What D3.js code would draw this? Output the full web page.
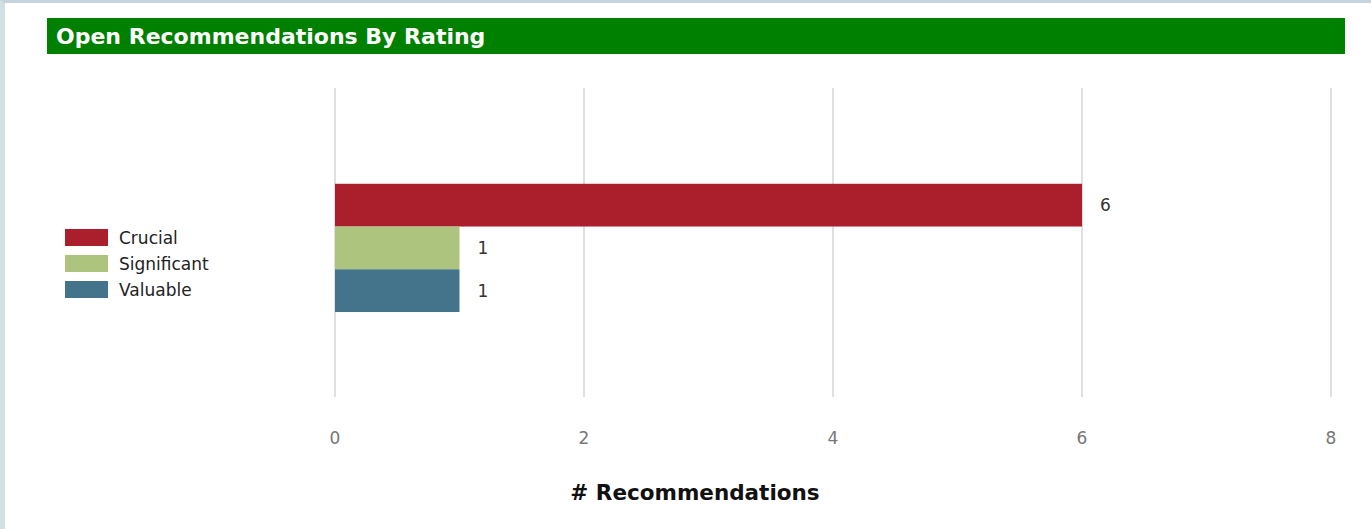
<!DOCTYPE html>
<html>
<head>
<meta charset="utf-8">
<script src="https://cdn.jsdelivr.net/npm/d3@7"></script>
<style>
  html, body { margin: 0; padding: 0; background: #ffffff; }
  body { width: 1371px; height: 529px; overflow: hidden; position: relative;
         border-top: 3px solid #c4d4da; border-left: 5px solid #d3e0e3; box-sizing: border-box; }
</style>
</head>
<body>
<div id="chart"></div>
<script>
const title = "Open Recommendations By Rating";
const ratings = ["Crucial", "Significant", "Valuable"];
const counts = [6, 1, 1];
const colors = ["#ab1f2d", "#adc47e", "#44748c"];
const xTicks = [0, 2, 4, 6, 8];
const xTitle = "# Recommendations";

const SIZE = { width: 1366, height: 526 };
const MARGIN = { left: 330, right: 40, top: 85, bottom: 132 };
const FONT = "'DejaVu Sans', Verdana, sans-serif";

function initialize() {
  const svg = d3.select("div#chart").append("svg")
      .attr("width", SIZE.width)
      .attr("height", SIZE.height)
      .style("display", "block");

  // header bar
  svg.append("rect")
      .attr("x", 42).attr("y", 15)
      .attr("width", 1298).attr("height", 36)
      .attr("fill", "#008000");
  svg.append("text")
      .attr("x", 51).attr("y", 41)
      .attr("fill", "#ffffff")
      .style("font-family", FONT)
      .style("font-weight", "bold")
      .style("font-size", "22px")
      .text(title);

  const x = d3.scaleLinear().domain([0, 8])
      .range([MARGIN.left, SIZE.width - MARGIN.right]);
  const plotBottom = SIZE.height - MARGIN.bottom;
  const plotH = plotBottom - MARGIN.top;
  const y = d3.scaleBand().domain(ratings)
      .range([MARGIN.top + plotH * 0.31, MARGIN.top + plotH * 0.725]);

  // gridlines
  svg.append("g").selectAll("line").data(xTicks).join("line")
      .attr("x1", d => x(d)).attr("x2", d => x(d))
      .attr("y1", MARGIN.top).attr("y2", plotBottom)
      .attr("stroke", "#e0e0e0").attr("stroke-width", 2);

  // tick labels
  svg.append("g").selectAll("text").data(xTicks).join("text")
      .attr("x", d => x(d)).attr("y", plotBottom + 47)
      .attr("text-anchor", "middle")
      .attr("fill", "#777")
      .style("font-family", FONT)
      .style("font-size", "17px")
      .text(d => d);

  // bars
  svg.append("g").selectAll("rect").data(ratings).join("rect")
      .attr("x", x(0))
      .attr("y", d => y(d))
      .attr("width", (d, i) => x(counts[i]) - x(0))
      .attr("height", y.bandwidth())
      .attr("fill", (d, i) => colors[i]);

  svg.append("g").selectAll("text").data(ratings).join("text")
      .attr("x", (d, i) => x(counts[i]) + 18)
      .attr("y", d => y(d) + y.bandwidth() / 2)
      .attr("dy", "0.35em")
      .attr("fill", "#333")
      .style("font-family", FONT)
      .style("font-size", "17px")
      .text((d, i) => counts[i]);

  // legend
  const legend = svg.append("g").attr("transform", "translate(60, 226)");
  const item = legend.selectAll("g").data(ratings).join("g")
      .attr("transform", (d, i) => `translate(0, ${i * 26})`);
  item.append("rect")
      .attr("width", 43).attr("height", 17)
      .attr("fill", (d, i) => colors[i]);
  item.append("text")
      .attr("x", 54).attr("y", 9)
      .attr("dy", "0.35em")
      .attr("fill", "#222")
      .style("font-family", FONT)
      .style("font-size", "17px")
      .text(d => d);

  // axis title
  svg.append("text")
      .attr("x", 690).attr("y", 497)
      .attr("text-anchor", "middle")
      .attr("fill", "#111")
      .style("font-family", FONT)
      .style("font-weight", "bold")
      .style("font-size", "21.5px")
      .text(xTitle);
}

initialize();
</script>
</body>
</html>
